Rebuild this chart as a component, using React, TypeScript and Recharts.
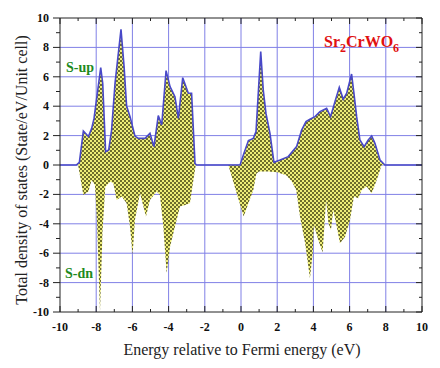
import React from 'react';
import { ComposedChart, Area, XAxis, YAxis, CartesianGrid } from 'recharts';

// Spin-up total DOS (energy in eV, states/eV/unit cell)
const upX = [-10, -9.1, -8.93, -8.71, -8.43, -8.25, -8.12, -7.75, -7.64, -7.48, -7.31, -7.15, -6.96, -6.63, -6.46, -6.32, -6.13, -5.86, -5.67, -5.3, -5.03, -4.81, -4.57, -4.38, -4.14, -3.92, -3.65, -3.46, -3.22, -2.91, -2.73, -2.54, -2.45, -0.05, 0.13, 0.41, 0.68, 0.83, 1.09, 1.23, 1.38, 1.6, 1.82, 2.16, 2.61, 3.07, 3.35, 3.59, 3.81, 4.09, 4.36, 4.73, 4.95, 5.19, 5.43, 5.65, 5.84, 6.11, 6.24, 6.39, 6.57, 6.8, 7.03, 7.22, 7.4, 7.68, 7.95, 10];
const upY = [0, 0, 0.18, 2.31, 1.93, 2.49, 3.17, 6.62, 5.56, 0.91, 1.02, 2.38, 5.56, 9.23, 6.69, 4.01, 3.29, 1.97, 1.81, 1.81, 2.15, 1.25, 3.36, 2.72, 6.42, 5.33, 4.65, 3.17, 5.94, 4.88, 4.88, 0.1, 0, 0, 0.68, 1.66, 1.81, 2.27, 7.71, 5.1, 3.51, 2.15, 0.18, 0.34, 0.57, 1.25, 2.38, 2.95, 3.11, 3.29, 3.63, 3.85, 3.29, 4.31, 5.28, 4.47, 4.88, 6.19, 4.88, 3.29, 1.7, 1.25, 1.7, 1.97, 1.47, 0.34, 0, 0];

// Spin-down total DOS
const dnX = [-10, -9.0, -8.71, -8.43, -8.25, -8.07, -7.95, -7.79, -7.65, -7.5, -7.33, -7.2, -7.05, -6.87, -6.59, -6.32, -6.13, -5.99, -5.86, -5.58, -5.25, -5.03, -4.66, -4.48, -4.29, -4.11, -3.92, -3.65, -3.37, -3.09, -2.82, -2.63, -2.5, -0.7, -0.24, 0.15, 0.41, 0.68, 0.85, 1.0, 1.5, 2.0, 2.5, 2.8, 3.05, 3.26, 3.54, 3.81, 3.96, 4.03, 4.27, 4.51, 4.7, 4.83, 4.97, 5.1, 5.29, 5.47, 5.75, 6.02, 6.24, 6.48, 6.67, 6.94, 7.22, 7.5, 7.77, 10];
const dnY = [0, 0, -2.04, -1.81, -1.02, -1.36, -4.0, -10.0, -4.5, -1.5, -1.25, -1.13, -1.25, -2.38, -2.15, -2.61, -4.2, -6.12, -3.74, -1.93, -3.51, -2.38, -1.81, -2.04, -4.2, -7.37, -5.56, -4.2, -2.83, -2.72, -2.61, -1.02, 0, 0, -1.93, -3.51, -2.6, -1.7, -0.6, -0.45, -0.45, -0.5, -0.7, -1.1, -1.7, -3.5, -5.3, -7.7, -6.0, -4.08, -5.1, -5.96, -2.38, -3.97, -4.42, -3.06, -4.2, -5.33, -4.88, -3.74, -2.15, -2.27, -1.7, -1.47, -1.93, -1.02, 0, 0];

const axisTicks = [-10, -9, -8, -7, -6, -5, -4, -3, -2, -1, 0, 1, 2, 3, 4, 5, 6, 7, 8, 9, 10];
const gridValues = [-8, -6, -4, -2, 0, 2, 4, 6, 8];

const xTitle = 'Energy relative to Fermi energy (eV)';
const yTitle = 'Total density of states (State/eV/Unit cell)';
const upLabel = 'S-up';
const dnLabel = 'S-dn';

function buildData() {
  const map = new Map<number, { x: number; up?: number; dn?: number }>();
  upX.forEach((x, i) => {
    const r = map.get(x) ?? { x };
    r.up = upY[i];
    map.set(x, r);
  });
  dnX.forEach((x, i) => {
    const r = map.get(x) ?? { x };
    r.dn = dnY[i];
    map.set(x, r);
  });
  return Array.from(map.values()).sort((a, b) => a.x - b.x);
}
const data = buildData();

const TICK_FONT = "'Liberation Serif', serif";
const AXIS_COLOR = '#222';

const isMajor = (v: number) => Math.abs(v) % 2 === 0;

const BottomTick = (props: any) => {
  const { x, y, payload } = props;
  const v = payload.value;
  const m = isMajor(v);
  return (
    <g>
      <line x1={x} x2={x} y1={y} y2={y - (m ? 6 : 3)} stroke={AXIS_COLOR} strokeWidth={1} />
      {m && (
        <text x={x} y={y + 19} textAnchor="middle" fontFamily={TICK_FONT} fontWeight="bold" fontSize={12} fill="#111">
          {v}
        </text>
      )}
    </g>
  );
};

const TopTick = (props: any) => {
  const { x, y, payload } = props;
  const m = isMajor(payload.value);
  return <line x1={x} x2={x} y1={y} y2={y + (m ? 6 : 3)} stroke={AXIS_COLOR} strokeWidth={1} />;
};

const LeftTick = (props: any) => {
  const { x, y, payload } = props;
  const v = payload.value;
  const m = isMajor(v);
  return (
    <g>
      <line x1={x} x2={x - (m ? 7 : 4)} y1={y} y2={y} stroke={AXIS_COLOR} strokeWidth={1} />
      {m && (
        <text x={x - 11} y={y + 4} textAnchor="end" fontFamily={TICK_FONT} fontWeight="bold" fontSize={12} fill="#111">
          {v}
        </text>
      )}
    </g>
  );
};

const RightTick = (props: any) => {
  const { x, y, payload } = props;
  const m = isMajor(payload.value);
  return <line x1={x} x2={x - (m ? 6 : 3)} y1={y} y2={y} stroke={AXIS_COLOR} strokeWidth={1} />;
};

export default function App() {
  return (
    <div style={{ position: 'relative', width: 432, height: 360 }}>
      <ComposedChart
        width={432}
        height={360}
        data={data}
        margin={{ top: 0, right: 8, bottom: 0, left: 0 }}
      >
        <defs>
          <pattern id="checker" patternUnits="userSpaceOnUse" width={4} height={4}>
            <rect x={0} y={0} width={4} height={4} fill="#eeee78" />
            <rect x={0} y={0} width={2} height={2} fill="#6e6e2c" />
            <rect x={2} y={2} width={2} height={2} fill="#6e6e2c" />
          </pattern>
        </defs>
        <CartesianGrid
          xAxisId="b"
          yAxisId="l"
          stroke="#8080e6"
          strokeWidth={1}
          verticalValues={gridValues}
          horizontalValues={gridValues}
        />
        <XAxis
          xAxisId="b"
          dataKey="x"
          type="number"
          domain={[-10, 10]}
          ticks={axisTicks}
          interval={0}
          height={56}
          tickSize={0}
          tickMargin={0}
          tickLine={false}
          tick={<BottomTick />}
          axisLine={{ stroke: AXIS_COLOR, strokeWidth: 1 }}
          allowDataOverflow
        />
        <XAxis
          xAxisId="t"
          orientation="top"
          dataKey="x"
          type="number"
          domain={[-10, 10]}
          ticks={axisTicks}
          interval={0}
          height={10}
          tickSize={0}
          tickMargin={0}
          tickLine={false}
          tick={<TopTick />}
          axisLine={{ stroke: AXIS_COLOR, strokeWidth: 1 }}
          allowDataOverflow
        />
        <YAxis
          yAxisId="l"
          type="number"
          domain={[-10, 10]}
          ticks={axisTicks}
          interval={0}
          width={52}
          tickSize={0}
          tickMargin={0}
          tickLine={false}
          tick={<LeftTick />}
          axisLine={{ stroke: AXIS_COLOR, strokeWidth: 1 }}
          allowDataOverflow
        />
        <YAxis
          yAxisId="r"
          orientation="right"
          type="number"
          domain={[-10, 10]}
          ticks={axisTicks}
          interval={0}
          width={10}
          tickSize={0}
          tickMargin={0}
          tickLine={false}
          tick={<RightTick />}
          axisLine={{ stroke: AXIS_COLOR, strokeWidth: 1 }}
          allowDataOverflow
        />
        <Area
          xAxisId="b"
          yAxisId="l"
          type="linear"
          dataKey="dn"
          baseValue={0}
          connectNulls
          stroke="none"
          fill="url(#checker)"
          fillOpacity={1}
          dot={false}
          activeDot={false}
          isAnimationActive={false}
        />
        <Area
          xAxisId="b"
          yAxisId="l"
          type="linear"
          dataKey="up"
          baseValue={0}
          connectNulls
          stroke="#4848c8"
          strokeWidth={1.6}
          fill="url(#checker)"
          fillOpacity={1}
          dot={false}
          activeDot={false}
          isAnimationActive={false}
        />
        <Area
          xAxisId="t"
          yAxisId="r"
          type="linear"
          dataKey="dn"
          stroke="none"
          fill="none"
          connectNulls
          dot={false}
          activeDot={false}
          isAnimationActive={false}
        />
      </ComposedChart>
      <svg
        width={432}
        height={360}
        style={{ position: 'absolute', left: 0, top: 0, pointerEvents: 'none' }}
      >
        <text x={58} y={64} fontFamily={TICK_FONT} fontWeight="bold" fontSize={14} fill="#1e8a1e">
          {upLabel}
        </text>
        <text x={57} y={270} fontFamily={TICK_FONT} fontWeight="bold" fontSize={14} fill="#1e8a1e">
          {dnLabel}
        </text>
        <text x={316} y={39} fontFamily={TICK_FONT} fontWeight="bold" fontSize={16} fill="#e01010">
          Sr<tspan dy={5} fontSize={12}>2</tspan>
          <tspan dy={-5}>CrWO</tspan>
          <tspan dy={5} fontSize={12}>6</tspan>
        </text>
        <text x={234} y={347} textAnchor="middle" fontFamily={TICK_FONT} fontSize={16} fill="#222">
          {xTitle}
        </text>
        <text
          transform="translate(19,162) rotate(-90)"
          textAnchor="middle"
          fontFamily={TICK_FONT}
          fontSize={16}
          fill="#222"
        >
          {yTitle}
        </text>
      </svg>
    </div>
  );
}
